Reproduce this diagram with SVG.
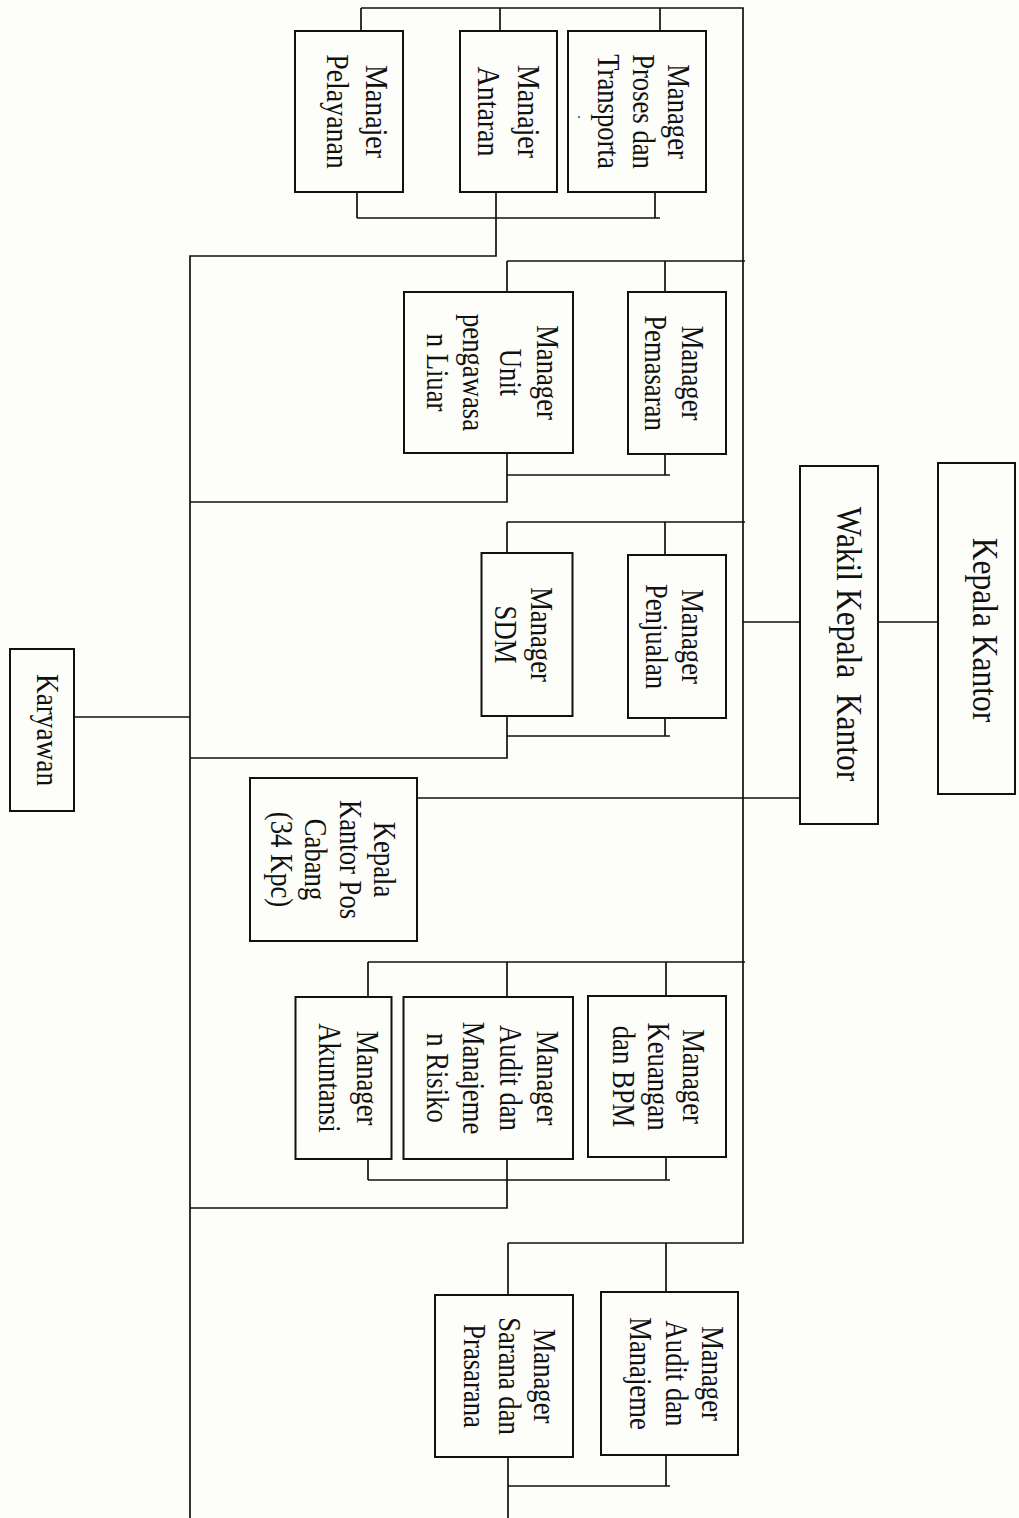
<svg xmlns="http://www.w3.org/2000/svg" width="1019" height="1518" viewBox="0 0 1019 1518">
<style>
.bg{fill:#fdfdf9}
.box{fill:#fdfdf9;stroke:#111;stroke-width:2}
.ln{fill:none;stroke:#111;stroke-width:1.7}
.t{font-family:"Liberation Serif","Times New Roman",serif;font-size:31px;fill:#111;text-anchor:middle}
.tb{font-family:"Liberation Serif","Times New Roman",serif;font-size:35px;fill:#111;text-anchor:middle}
</style>
<rect class="bg" x="0" y="0" width="1019" height="1518"/>
<g id="connectors">
<path class="ln" d="M361,8 H743 V1243 H508 M361,8 V31 M500,8 V31 M660,8 V31"/>
<path class="ln" d="M357,192 V218 M655,192 V218 M357,218 H660 M496,192 V256 H190 V1518"/>
<path class="ln" d="M507,261 H745 M507,261 V292 M665,261 V292 M507,453 V502 H190 M665,454 V475 M507,475 H670"/>
<path class="ln" d="M507,522 H745 M507,522 V553 M665,522 V555 M507,716 V758 H190 M665,718 V736 M507,736 H670"/>
<path class="ln" d="M743,622 H800 M878,622 H938 M417,798 H800"/>
<path class="ln" d="M368,962 H745 M368,962 V997 M507,962 V997 M666,962 V996 M368,1159 V1180 M666,1157 V1180 M368,1180 H670 M507,1159 V1208 H190"/>
<path class="ln" d="M508,1243 V1295 M666,1243 V1292 M508,1457 V1518 M666,1455 V1486 M508,1486 H670"/>
<path class="ln" d="M74,717 H190"/>
</g>
<g id="kepala-kantor">
<rect class="box" x="938" y="463" width="77" height="331"/>
<text class="tb" transform="translate(973,630) rotate(90) scale(0.9,1)">Kepala Kantor</text>
</g>
<g id="wakil-kepala-kantor">
<rect class="box" x="800" y="466" width="78" height="358"/>
<text class="tb" xml:space="preserve" style="white-space:pre" transform="translate(837,644) rotate(90) scale(0.9,1)">Wakil Kepala  Kantor</text>
</g>
<g id="manajer-pelayanan">
<rect class="box" x="295" y="31" width="108" height="161"/>
<text class="t" transform="translate(366,111.5) rotate(90) scale(0.9,1)"><tspan x="0" y="0">Manajer</tspan><tspan x="0" y="39">Pelayanan</tspan></text>
</g>
<g id="manajer-antaran">
<rect class="box" x="460" y="31" width="97" height="161"/>
<text class="t" transform="translate(518,111.5) rotate(90) scale(0.9,1)"><tspan x="0" y="0">Manajer</tspan><tspan x="0" y="40">Antaran</tspan></text>
</g>
<g id="manager-proses">
<rect class="box" x="568" y="31" width="138" height="161"/>
<text class="t" transform="translate(668,111.5) rotate(90) scale(0.86,1)"><tspan x="0" y="0">Manager</tspan><tspan x="0" y="35">Proses dan</tspan><tspan x="0" y="70">Transporta</tspan></text>
<circle cx="579" cy="117" r="0.9" fill="#333"/>
</g>
<g id="manager-unit">
<rect class="box" x="404" y="292" width="169" height="161"/>
<text class="t" transform="translate(537,372.5) rotate(90) scale(0.86,1)"><tspan x="0" y="0">Manager</tspan><tspan x="0" y="37">Unit</tspan><tspan x="0" y="74">pengawasa</tspan><tspan x="0" y="110">n Liuar</tspan></text>
</g>
<g id="manager-pemasaran">
<rect class="box" x="628" y="292" width="98" height="162"/>
<text class="t" transform="translate(682,373) rotate(90) scale(0.86,1)"><tspan x="0" y="0">Manager</tspan><tspan x="0" y="37">Pemasaran</tspan></text>
</g>
<g id="manager-sdm">
<rect class="box" x="481.5" y="553" width="91" height="163"/>
<text class="t" transform="translate(531,634.5) rotate(90) scale(0.86,1)"><tspan x="0" y="0">Manager</tspan><tspan x="0" y="36">SDM</tspan></text>
</g>
<g id="manager-penjualan">
<rect class="box" x="628" y="555" width="98" height="163"/>
<text class="t" transform="translate(682,636.5) rotate(90) scale(0.86,1)"><tspan x="0" y="0">Manager</tspan><tspan x="0" y="36">Penjualan</tspan></text>
</g>
<g id="kepala-kpc">
<rect class="box" x="250" y="778" width="167" height="163"/>
<text class="t" transform="translate(374,859.5) rotate(90) scale(0.86,1)"><tspan x="0" y="0">Kepala</tspan><tspan x="0" y="34.5">Kantor Pos</tspan><tspan x="0" y="69">Cabang</tspan><tspan x="0" y="103.5">(34 Kpc)</tspan></text>
</g>
<g id="manager-keuangan">
<rect class="box" x="588" y="996" width="138" height="161"/>
<text class="t" transform="translate(683,1076.5) rotate(90) scale(0.86,1)"><tspan x="0" y="0">Manager</tspan><tspan x="0" y="35">Keuangan</tspan><tspan x="0" y="70">dan BPM</tspan></text>
</g>
<g id="manager-audit-risiko">
<rect class="box" x="403.5" y="997" width="169.5" height="162"/>
<text class="t" transform="translate(537,1078) rotate(90) scale(0.86,1)"><tspan x="0" y="0">Manager</tspan><tspan x="0" y="37">Audit dan</tspan><tspan x="0" y="74">Manajeme</tspan><tspan x="0" y="110">n Risiko</tspan></text>
</g>
<g id="manager-akuntansi">
<rect class="box" x="295.5" y="997" width="96" height="162"/>
<text class="t" transform="translate(357,1078) rotate(90) scale(0.86,1)"><tspan x="0" y="0">Manager</tspan><tspan x="0" y="38">Akuntansi</tspan></text>
</g>
<g id="manager-sarana">
<rect class="box" x="435" y="1295" width="138" height="162"/>
<text class="t" transform="translate(534,1376) rotate(90) scale(0.86,1)"><tspan x="0" y="0">Manager</tspan><tspan x="0" y="35">Sarana dan</tspan><tspan x="0" y="70">Prasarana</tspan></text>
</g>
<g id="manager-audit">
<rect class="box" x="601" y="1292" width="137" height="163"/>
<text class="t" transform="translate(702,1373.5) rotate(90) scale(0.86,1)"><tspan x="0" y="0">Manager</tspan><tspan x="0" y="36">Audit dan</tspan><tspan x="0" y="72">Manajeme</tspan></text>
</g>
<g id="karyawan">
<rect class="box" x="10" y="649" width="64" height="162"/>
<text class="t" transform="translate(37,730) rotate(90) scale(0.88,1)">Karyawan</text>
</g>
</svg>
